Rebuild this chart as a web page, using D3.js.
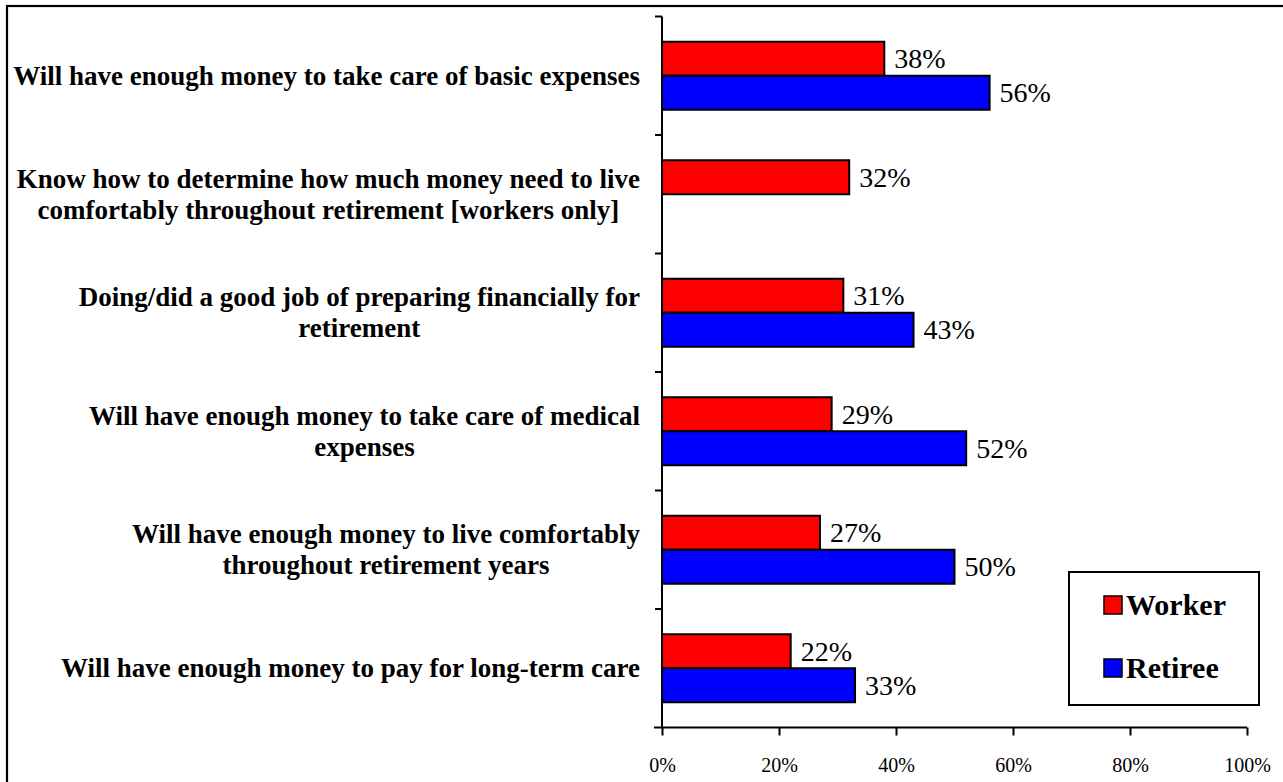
<!DOCTYPE html>
<html>
<head>
<meta charset="utf-8">
<script src="https://cdn.jsdelivr.net/npm/d3@7"></script>
<style>
  html, body { margin: 0; padding: 0; background: #fff; }
  svg { display: block; font-family: "Liberation Serif", "Times New Roman", serif; }
</style>
</head>
<body>
<svg id="chart" width="1283" height="782"></svg>
<script>
// Survey statements (top to bottom), each split into its display lines
const categories = [
  ["Will have enough money to take care of basic expenses"],
  ["Know how to determine how much money need to live", "comfortably throughout retirement [workers only]"],
  ["Doing/did a good job of preparing financially for", "retirement"],
  ["Will have enough money to take care of medical", "expenses"],
  ["Will have enough money to live comfortably", "throughout retirement years"],
  ["Will have enough money to pay for long-term care"]
];
const seriesNames = ["Worker", "Retiree"];
const workerValues = [0.38, 0.32, 0.31, 0.29, 0.27, 0.22];
const retireeValues = [0.56, null, 0.43, 0.52, 0.50, 0.33];
const xTickValues = [0, 0.2, 0.4, 0.6, 0.8, 1.0];
const seriesColors = ["#ff0000", "#0000ff"];

const svg = d3.select("#chart");
const keys = categories.map((c, i) => "c" + i);

const x = d3.scaleLinear().domain([0, 1]).range([662, 1247]);
const y = d3.scaleBand().domain(keys).range([16.5, 727.5]).padding(0);
const barH = y.bandwidth() * 0.287;
const pct = d3.format(".0%");

// outer frame
svg.append("rect")
  .attr("x", 7).attr("y", 6).attr("width", 1300).attr("height", 800)
  .attr("fill", "none").attr("stroke", "#000").attr("stroke-width", 2.2);

// bars
const rows = keys.map((k, i) => ({ key: k, values: [workerValues[i], retireeValues[i]] }));
const barG = svg.append("g");
rows.forEach(row => {
  const cy = y(row.key) + y.bandwidth() / 2;
  row.values.forEach((v, s) => {
    if (v == null) return;
    const top = s === 0 ? cy - barH : cy;
    barG.append("rect")
      .attr("x", x(0)).attr("y", top)
      .attr("width", x(v) - x(0)).attr("height", barH)
      .attr("fill", seriesColors[s])
      .attr("stroke", "#000").attr("stroke-width", 2);
    barG.append("text")
      .attr("x", x(v) + 10).attr("y", top + barH / 2 + 9.5)
      .attr("font-size", 28).attr("fill", "#000")
      .text(pct(v));
  });
});

// y axis line with boundary ticks
const yAxis = svg.append("g").attr("stroke", "#000").attr("stroke-width", 2);
yAxis.append("line")
  .attr("x1", x(0)).attr("x2", x(0))
  .attr("y1", y.range()[0]).attr("y2", y.range()[1]);
const bounds = keys.map(k => y(k));
yAxis.selectAll("line.tk").data(bounds).join("line").attr("class", "tk")
  .attr("x1", x(0) - 7).attr("x2", x(0))
  .attr("y1", d => d).attr("y2", d => d);

// x axis
const xAxis = svg.append("g")
  .attr("transform", `translate(0,${y.range()[1]})`)
  .call(d3.axisBottom(x).tickValues(xTickValues).tickFormat(pct)
    .tickSize(8).tickSizeOuter(0).tickPadding(22));
xAxis.select(".domain").attr("stroke-width", 2)
  .attr("d", `M${x(0) - 8},0H${x(1)}`);
xAxis.selectAll(".tick line").attr("stroke-width", 2);
xAxis.selectAll(".tick text")
  .attr("font-family", "'Liberation Serif', 'Times New Roman', serif")
  .attr("font-size", 20).attr("fill", "#000");

// category labels: centered block, right edge at 640
const labG = svg.append("g")
  .attr("font-size", 27).attr("font-weight", "bold").attr("fill", "#000");
categories.forEach((lines, i) => {
  const cy = y(keys[i]) + y.bandwidth() / 2;
  const g = labG.append("g");
  const lh = 31;
  const texts = lines.map((ln, j) =>
    g.append("text")
      .attr("text-anchor", "middle")
      .attr("y", cy + 9 + (j - (lines.length - 1) / 2) * lh)
      .text(ln));
  const maxW = d3.max(texts, t => t.node().getComputedTextLength());
  texts.forEach(t => t.attr("x", 640 - maxW / 2));
});

// legend
const leg = svg.append("g");
leg.append("rect")
  .attr("x", 1069).attr("y", 572).attr("width", 190).attr("height", 133)
  .attr("fill", "#fff").attr("stroke", "#000").attr("stroke-width", 2);
seriesNames.forEach((name, i) => {
  const cy = 605 + i * 63;
  leg.append("rect")
    .attr("x", 1104).attr("y", cy - 9).attr("width", 18).attr("height", 18)
    .attr("fill", seriesColors[i]).attr("stroke", "#000").attr("stroke-width", 1.5);
  leg.append("text")
    .attr("x", 1126).attr("y", cy + 10)
    .attr("font-size", 30).attr("font-weight", "bold").attr("fill", "#000")
    .text(name);
});
</script>
</body>
</html>
